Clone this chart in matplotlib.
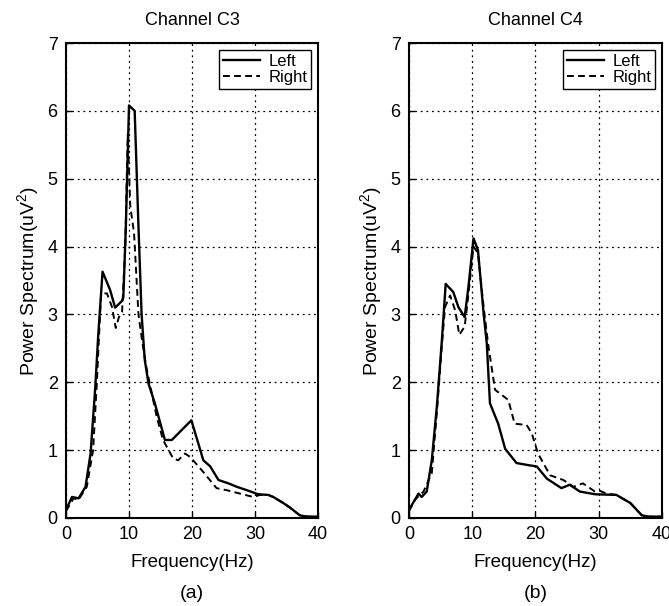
import matplotlib
matplotlib.use("Agg")
import matplotlib.pyplot as plt

plt.rcParams['font.family'] = ['Liberation Sans', 'DejaVu Sans']
plt.rcParams['mathtext.fontset'] = 'custom'
plt.rcParams['mathtext.rm'] = 'Liberation Sans'
plt.rcParams['mathtext.it'] = 'Liberation Sans'

# ---- Data: Channel C3 ----
c3_left_x = [0, 0.95, 2.0, 3.1, 3.9, 4.65, 5.1, 5.8, 7.0, 7.8, 8.9, 9.1, 9.5, 10.0, 10.9,
             11.5, 12.0, 12.5, 13.1, 14.1, 15.7, 16.8, 19.9, 21.8, 22.9, 24.2, 25.8,
             27.1, 28.7, 30.5, 32.1, 32.9, 34.5, 35.6, 37.1, 38.2, 40]
c3_left_y = [0.12, 0.31, 0.29, 0.46, 0.95, 1.93, 2.67, 3.63, 3.36, 3.10, 3.20, 3.25, 4.3, 6.08, 6.00,
             4.30, 3.00, 2.33, 1.98, 1.69, 1.15, 1.15, 1.44, 0.85, 0.76, 0.56, 0.51,
             0.46, 0.41, 0.35, 0.34, 0.31, 0.22, 0.15, 0.04, 0.02, 0.02]
c3_right_x = [0, 1.2, 2.0, 3.3, 4.3, 4.9, 5.4, 5.6, 6.5, 7.3, 7.9, 8.4, 8.9, 9.4, 9.8, 10.2,
              10.8, 11.5, 12.1, 12.8, 14.4, 15.4, 17.0, 17.8, 18.9, 19.7, 21.5, 23.9,
              25.5, 27.6, 29.7, 30.8, 32.1, 32.9, 34.5, 35.6, 37.1, 38.2, 40]
c3_right_y = [0.10, 0.29, 0.27, 0.46, 1.00, 2.00, 3.00, 3.31, 3.31, 3.11, 2.80, 2.96, 3.04, 3.98, 5.65, 4.60,
              4.20, 3.00, 2.60, 2.20, 1.49, 1.15, 0.88, 0.85, 0.95, 0.90, 0.71, 0.44,
              0.41, 0.36, 0.31, 0.34, 0.34, 0.31, 0.22, 0.15, 0.04, 0.02, 0.02]

# ---- Data: Channel C4 ----
c4_left_x = [0, 1.5, 2.0, 2.8, 3.6, 4.4, 5.2, 5.8, 7.0, 7.8, 8.8, 9.4, 10.2, 10.9, 11.8,
             12.3, 12.8, 14.1, 15.2, 17.0, 18.8, 20.2, 21.8, 24.1, 25.4, 27.0, 29.4,
             32.8, 35.0, 36.8, 37.8, 40]
c4_left_y = [0.12, 0.36, 0.31, 0.39, 0.85, 1.64, 2.62, 3.45, 3.33, 3.11, 2.96, 3.41, 4.12, 3.95, 3.01,
             2.57, 1.69, 1.39, 1.02, 0.81, 0.78, 0.76, 0.58, 0.44, 0.49, 0.39, 0.35,
             0.34, 0.22, 0.04, 0.02, 0.02]
c4_right_x = [0, 0.95, 2.3, 3.6, 4.4, 5.2, 5.7, 6.5, 7.3, 7.95, 8.8, 9.4, 10.2, 10.9, 11.8,
              12.5, 13.6, 15.7, 16.7, 18.6, 19.4, 20.4, 22.3, 24.4, 26.0, 27.5, 28.3,
              29.4, 30.2, 31.2, 32.8, 35.0, 36.8, 37.8, 40]
c4_right_y = [0.10, 0.27, 0.39, 0.66, 1.55, 2.55, 3.11, 3.28, 3.06, 2.70, 2.82, 3.30, 4.00, 3.90, 3.11,
              2.57, 1.89, 1.74, 1.39, 1.37, 1.25, 0.95, 0.63, 0.56, 0.46, 0.51, 0.46,
              0.39, 0.40, 0.36, 0.34, 0.22, 0.04, 0.02, 0.02]

titles = ["Channel C3", "Channel C4"]
panel_labels = ["(a)", "(b)"]
x_ticks = [0, 10, 20, 30, 40]
y_ticks = [0, 1, 2, 3, 4, 5, 6, 7]

W, H = 669, 606
fig = plt.figure(figsize=(W / 100, H / 100), dpi=100)

axes_px = [(66, 318), (409, 662)]
top_px, bot_px = 43, 518

data = [((c3_left_x, c3_left_y), (c3_right_x, c3_right_y)),
        ((c4_left_x, c4_left_y), (c4_right_x, c4_right_y))]

for i, ((lx, ly), (rx, ry)) in enumerate(data):
    l, r = axes_px[i]
    ax = fig.add_axes([l / W, (H - bot_px) / H, (r - l) / W, (bot_px - top_px) / H])
    ax.plot(lx, ly, color='black', lw=1.7, ls='-', label='Left')
    ax.plot(rx, ry, color='black', lw=1.4, ls=(0, (3.5, 2.2)), label='Right')
    ax.set_xlim(0, 40)
    ax.set_ylim(0, 7)
    ax.set_xticks(x_ticks)
    ax.set_yticks(y_ticks)
    ax.grid(True, color='black', ls=(0, (1.5, 3)), lw=0.9)
    ax.tick_params(direction='in', length=4, width=1, labelsize=13, pad=6)
    for s in ax.spines.values():
        s.set_linewidth(1.5)
    ax.set_title(titles[i], fontsize=13, pad=13)
    ax.set_xlabel("Frequency(Hz)", fontsize=13.5, labelpad=8)
    ax.set_ylabel("Power Spectrum(uV$^2$)", fontsize=14, labelpad=5)
    leg = ax.legend(loc='upper right', fontsize=12, fancybox=False, framealpha=1,
                    edgecolor='black', borderpad=0.25, labelspacing=0.05,
                    handlelength=2.2, handletextpad=0.5, borderaxespad=0.4)
    leg.get_frame().set_linewidth(1.0)
    fig.text(((l + r) / 2) / W, (H - 593) / H, panel_labels[i], ha='center', va='center', fontsize=14)

fig.savefig("out.png", dpi=100)
